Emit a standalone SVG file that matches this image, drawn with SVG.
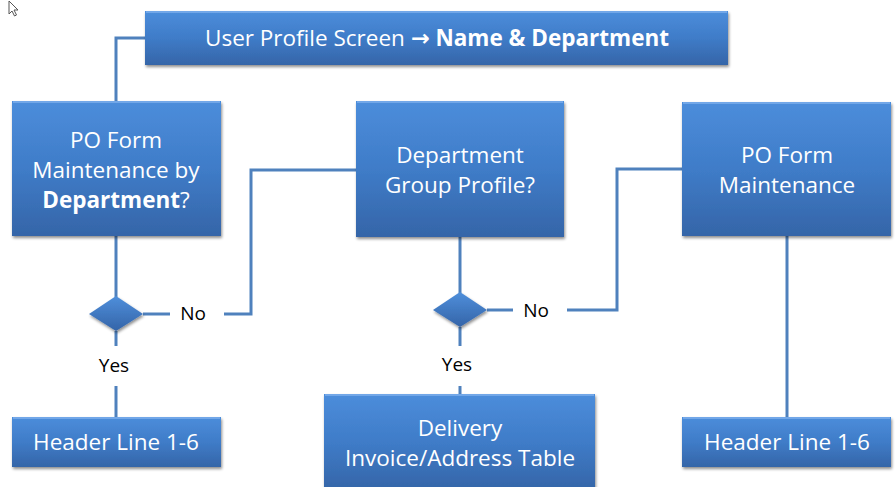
<svg xmlns="http://www.w3.org/2000/svg" width="895" height="487" viewBox="0 0 895 487">
  <defs>
    <linearGradient id="boxFill" x1="0" y1="0" x2="0" y2="1">
      <stop offset="0" stop-color="#4c8ddb"/>
      <stop offset="0.5" stop-color="#3f7cc8"/>
      <stop offset="1" stop-color="#3565a8"/>
    </linearGradient>
    <linearGradient id="diaFill" x1="0" y1="0" x2="0" y2="1">
      <stop offset="0" stop-color="#4f8fdb"/>
      <stop offset="1" stop-color="#3464a8"/>
    </linearGradient>
    <filter id="shadow" x="-10%" y="-10%" width="120%" height="130%">
      <feGaussianBlur in="SourceAlpha" stdDeviation="1.5"/>
      <feOffset dx="1" dy="2"/>
      <feComponentTransfer><feFuncA type="linear" slope="0.45"/></feComponentTransfer>
      <feMerge><feMergeNode/><feMergeNode in="SourceGraphic"/></feMerge>
    </filter>
  </defs>
  <style>
    .box { fill: url(#boxFill); filter: url(#shadow); }
    .bevel { stroke: #7fb0ec; stroke-width: 1.5; fill: none; }
    .dia { fill: url(#diaFill); filter: url(#shadow); }
    .conn { stroke: #4f81bd; stroke-width: 3; fill: none; }
    .t { font-family: "Open Sans", "Liberation Sans", sans-serif; font-size: 22.5px; fill: #ffffff; text-anchor: middle; }
    .lbl { font-family: "Open Sans", "Liberation Sans", sans-serif; font-size: 19px; fill: #000000; text-anchor: middle; }
    .b { font-weight: bold; }
    .arrow { font-family: "DejaVu Sans", sans-serif; font-weight: bold; }
  </style>

  <!-- pointer glyph in the corner -->
  <path d="M9,1 L9,14 L12,11 L14.5,16 L16.5,15 L14,10 L18,10 Z" fill="#ffffff" stroke="#555" stroke-width="1"/>

  <g id="connectors">
    <polyline class="conn" points="146,38 116,38 116,101"/>
    <line class="conn" x1="116" y1="236" x2="116" y2="297"/>
    <line class="conn" x1="116" y1="331" x2="116" y2="346"/>
    <line class="conn" x1="116" y1="386" x2="116" y2="417"/>
    <line class="conn" x1="143" y1="314" x2="170" y2="314"/>
    <polyline class="conn" points="224,314 251,314 251,170 356,170"/>
    <line class="conn" x1="460" y1="237" x2="460" y2="293"/>
    <line class="conn" x1="460" y1="327" x2="460" y2="346"/>
    <line class="conn" x1="460" y1="386" x2="460" y2="394"/>
    <line class="conn" x1="487" y1="310" x2="513" y2="310"/>
    <polyline class="conn" points="567,310 617,310 617,169 682,169"/>
    <line class="conn" x1="787" y1="236" x2="787" y2="417"/>
  </g>

  <g id="top">
    <rect class="box" x="145" y="11" width="583" height="54"/>
    <line class="bevel" x1="146" y1="12" x2="727" y2="12"/>
    <text class="t" x="437" y="46">User Profile Screen <tspan class="arrow">→</tspan> <tspan class="b">Name &amp; Department</tspan></text>
  </g>

  <g id="po-dept">
    <rect class="box" x="12" y="101" width="209" height="135"/>
    <line class="bevel" x1="13" y1="102" x2="220" y2="102"/>
    <text class="t" x="116" y="148">PO Form</text>
    <text class="t" x="116" y="178">Maintenance by</text>
    <text class="t" x="116" y="208"><tspan class="b">Department</tspan>?</text>
  </g>

  <g id="dept-group">
    <rect class="box" x="356" y="101" width="208" height="136"/>
    <line class="bevel" x1="357" y1="102" x2="563" y2="102"/>
    <text class="t" x="460" y="163">Department</text>
    <text class="t" x="460" y="193">Group Profile?</text>
  </g>

  <g id="po-form">
    <rect class="box" x="682" y="102" width="209" height="134"/>
    <line class="bevel" x1="683" y1="103" x2="890" y2="103"/>
    <text class="t" x="787" y="163">PO Form</text>
    <text class="t" x="787" y="193">Maintenance</text>
  </g>

  <g id="decision-1">
    <polygon class="dia" points="116,296 143,314 116,331 89,314"/>
    <text class="lbl" x="193" y="320">No</text>
    <text class="lbl" x="114" y="372">Yes</text>
  </g>

  <g id="decision-2">
    <polygon class="dia" points="460,292 487,310 460,327 433,310"/>
    <text class="lbl" x="536" y="317">No</text>
    <text class="lbl" x="457" y="371">Yes</text>
  </g>

  <g id="header-left">
    <rect class="box" x="12" y="417" width="209" height="50"/>
    <line class="bevel" x1="13" y1="418" x2="220" y2="418"/>
    <text class="t" x="116" y="450">Header Line 1-6</text>
  </g>

  <g id="delivery">
    <rect class="box" x="324" y="394" width="271" height="96"/>
    <line class="bevel" x1="325" y1="395" x2="594" y2="395"/>
    <text class="t" x="460" y="436">Delivery</text>
    <text class="t" x="460" y="466">Invoice/Address Table</text>
  </g>

  <g id="header-right">
    <rect class="box" x="682" y="417" width="209" height="50"/>
    <line class="bevel" x1="683" y1="418" x2="890" y2="418"/>
    <text class="t" x="787" y="450">Header Line 1-6</text>
  </g>
</svg>
